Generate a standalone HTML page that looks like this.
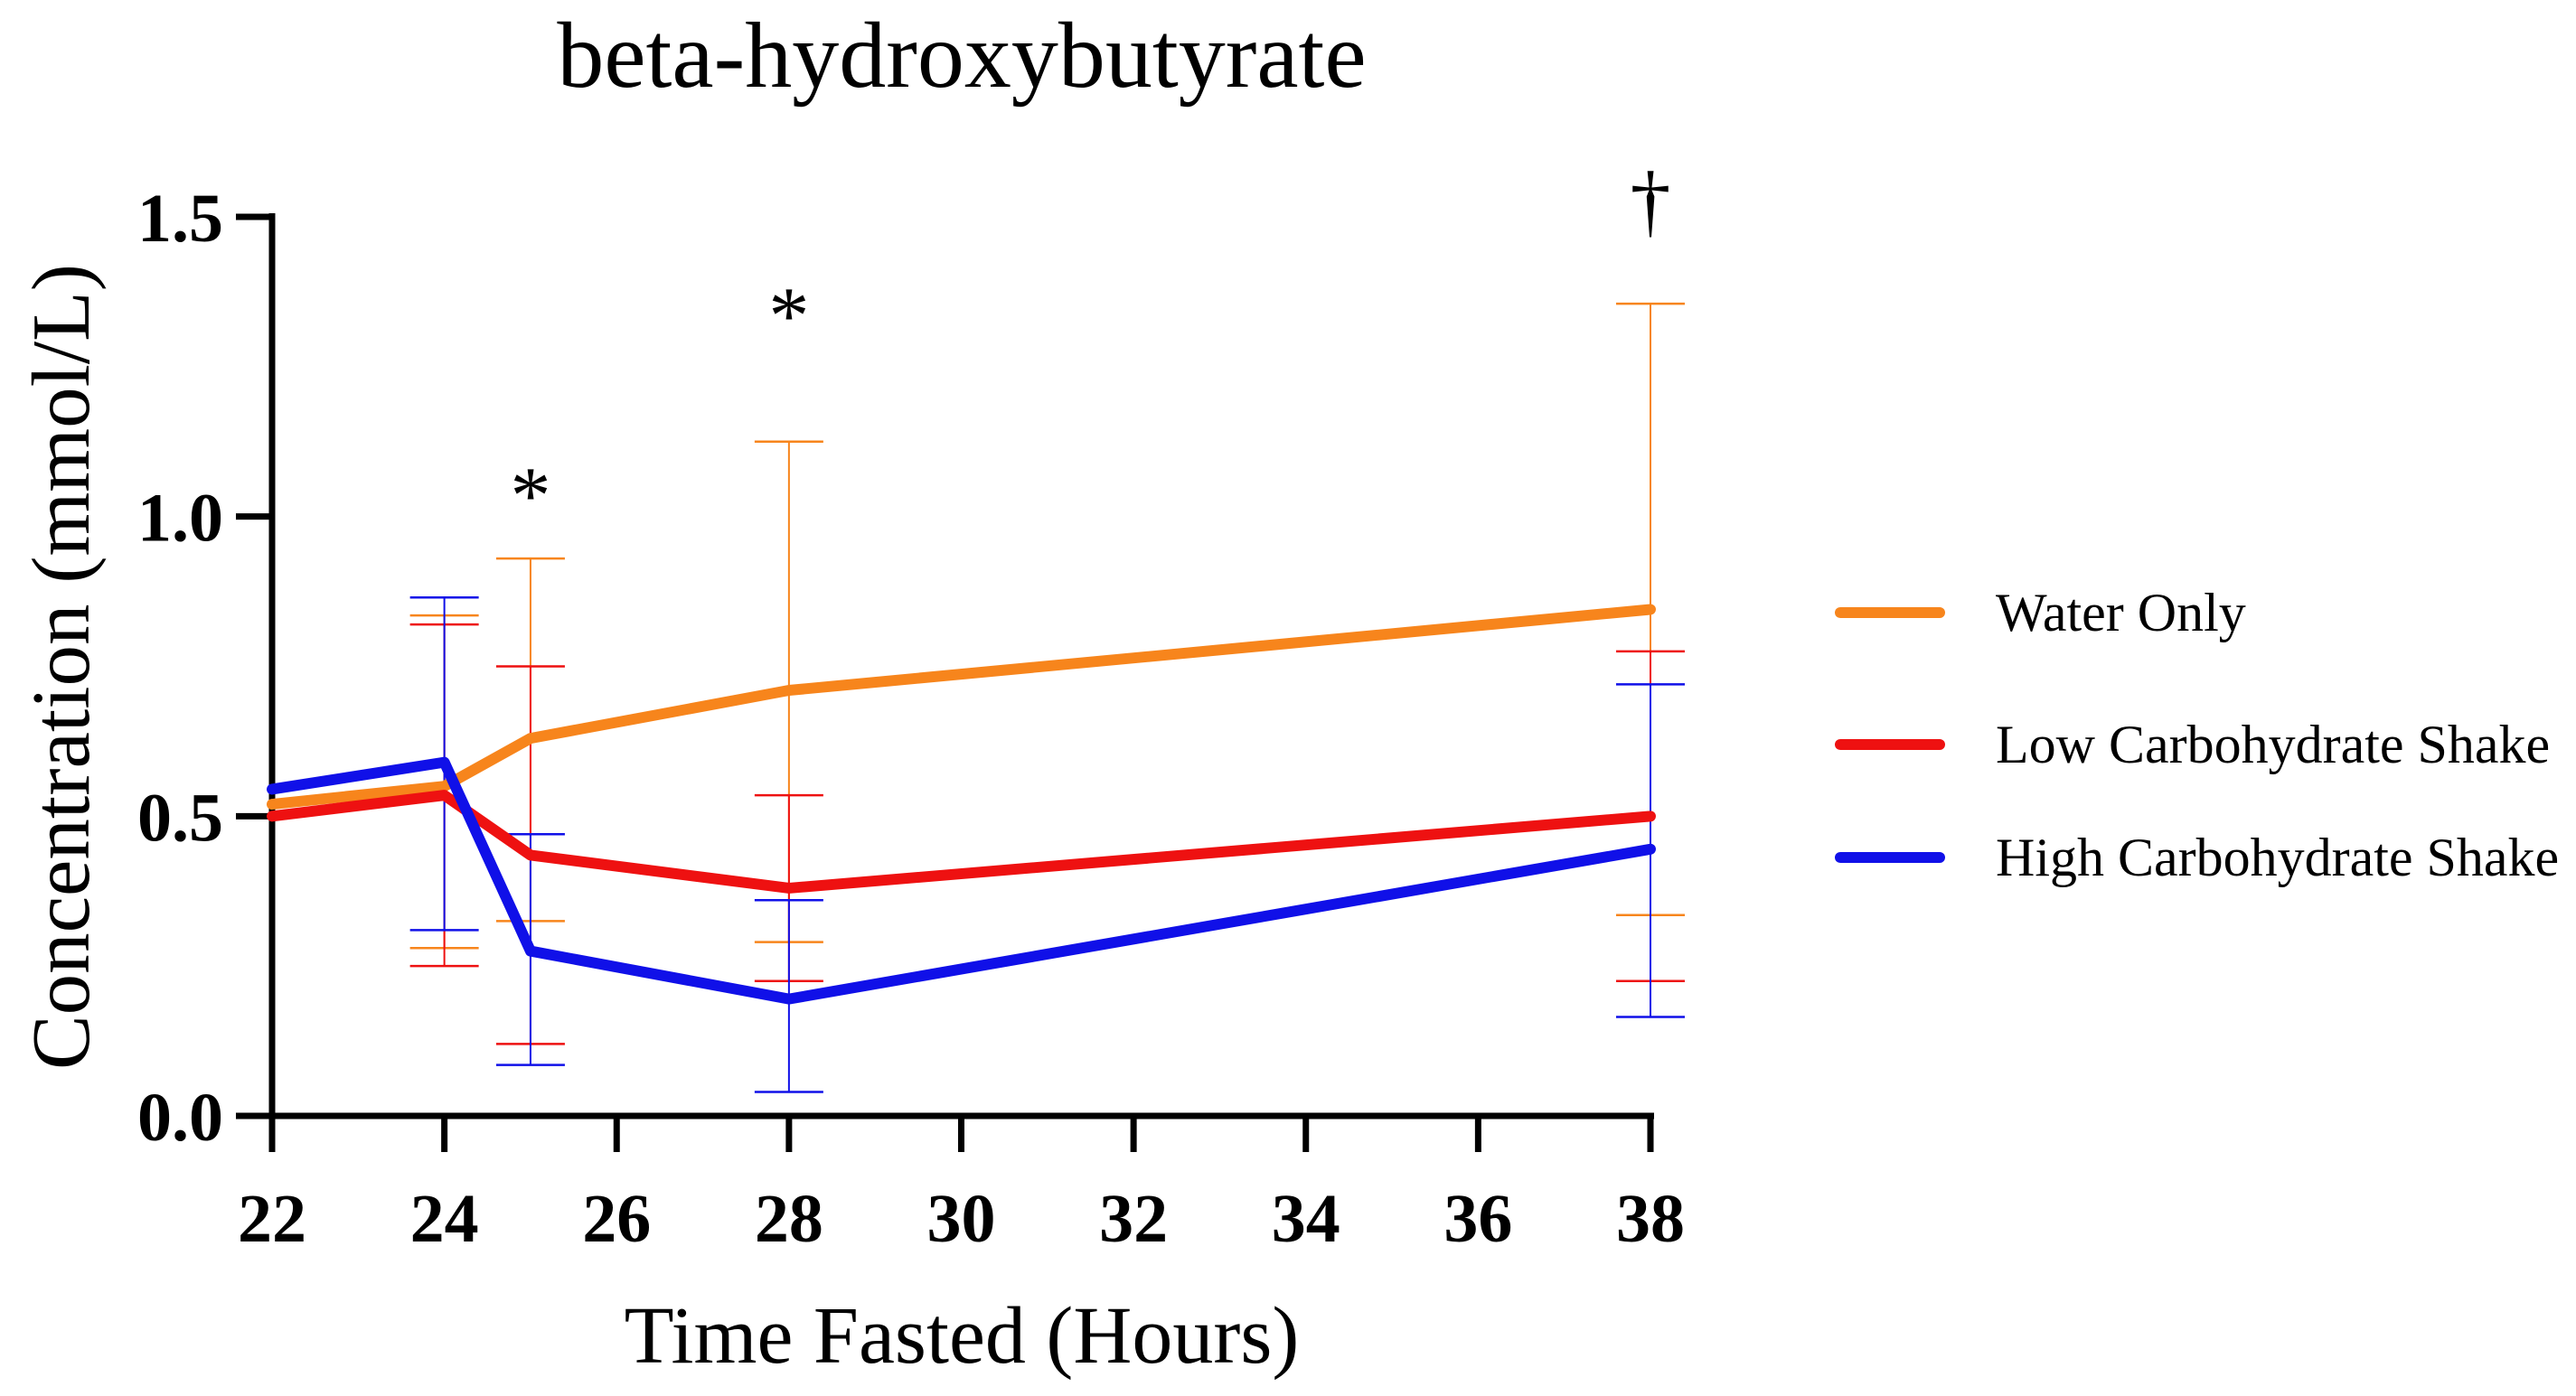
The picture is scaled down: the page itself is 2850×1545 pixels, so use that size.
<!DOCTYPE html>
<html><head><meta charset="utf-8"><style>
html,body{margin:0;padding:0;background:#fff;}
svg{display:block;font-family:"Liberation Serif",serif;}
</style></head><body>
<svg id="chart" width="2850" height="1545" viewBox="0 0 2850 1545" xmlns="http://www.w3.org/2000/svg">
<text x="1064" y="96" font-size="104" text-anchor="middle" fill="#000">beta-hydroxybutyrate</text>
<g id="grid"></g>
<text transform="translate(98,738) rotate(-90)" font-size="91" text-anchor="middle" fill="#000">Concentration (mmol/L)</text>
<text x="1064" y="1508" font-size="90" text-anchor="middle" fill="#000">Time Fasted (Hours)</text>
<g id="legend"></g>
</svg>
<script>
const times = [22, 24, 25, 28, 38];
const seriesNames = ["Water Only", "Low Carbohydrate Shake", "High Carbohydrate Shake"];
const seriesColors = ["#f7851c", "#ee1111", "#1010e8"];
const waterMean = [0.52, 0.55, 0.63, 0.71, 0.845];
const lowMean = [0.50, 0.535, 0.435, 0.38, 0.50];
const highMean = [0.545, 0.59, 0.275, 0.195, 0.445];
const waterLo = [null, 0.28, 0.325, 0.29, 0.335];
const waterHi = [null, 0.835, 0.93, 1.125, 1.355];
const lowLo = [null, 0.25, 0.12, 0.225, 0.225];
const lowHi = [null, 0.82, 0.75, 0.535, 0.775];
const highLo = [null, 0.31, 0.085, 0.04, 0.165];
const highHi = [null, 0.865, 0.47, 0.36, 0.72];
const xTicks = [22, 24, 26, 28, 30, 32, 34, 36, 38];
const yTicks = [0.0, 0.5, 1.0, 1.5];
const yTickLabels = ["0.0", "0.5", "1.0", "1.5"];
const markTimes = [25, 28, 38];
const markLabels = ["*", "*", "†"];
const markValues = [1.02, 1.32, 1.5];

const NS = "http://www.w3.org/2000/svg";
const svg = document.getElementById("chart");
const g = document.getElementById("grid");
const lg = document.getElementById("legend");
const X0 = 301, X1 = 1826, Y0 = 1235, Y1 = 240;
function xs(t){ return X0 + (t - 22) / 16 * (X1 - X0); }
function ys(v){ return Y0 - v / 1.5 * (Y0 - Y1); }
function mk(tag, attrs, parent){
  const e = document.createElementNS(NS, tag);
  for (const k in attrs) e.setAttribute(k, attrs[k]);
  (parent || g).appendChild(e);
  return e;
}
let e = mk("line", {x1: X0, y1: Y1 - 4, x2: X0, y2: Y0 + 4, stroke: "#000", "stroke-width": 7});


e = mk("line", {x1: X0 - 4, y1: Y0, x2: X1 + 4, y2: Y0, stroke: "#000", "stroke-width": 7});


yTicks.forEach((v, i) => {
  const t = mk("line", {x1: X0 - 40, y1: ys(v), x2: X0, y2: ys(v), stroke: "#000", "stroke-width": 7});
  
  
  const l = mk("text", {x: X0 - 54, y: ys(v) + 27, "font-size": 76, "font-weight": "bold", "text-anchor": "end"});
  l.textContent = yTickLabels[i];
  
  
});
xTicks.forEach(v => {
  const t = mk("line", {x1: xs(v), y1: Y0, x2: xs(v), y2: Y0 + 40, stroke: "#000", "stroke-width": 7});
  
  
  const l = mk("text", {x: xs(v), y: 1374, "font-size": 76, "font-weight": "bold", "text-anchor": "middle"});
  l.textContent = String(v);
  
  
});
const means = [waterMean, lowMean, highMean];
const los = [waterLo, lowLo, highLo];
const his = [waterHi, lowHi, highHi];
const keys = ["water", "low-carb", "high-carb"];
[0, 1, 2].forEach(s => {
  times.forEach((t, i) => {
    if (los[s][i] == null) return;
    const x = xs(t);
    const c = seriesColors[s];
    const v = mk("line", {x1: x, y1: ys(los[s][i]), x2: x, y2: ys(his[s][i]), stroke: c, "stroke-width": 2});
    
    
    [los[s][i], his[s][i]].forEach(val => {
      const cap = mk("line", {x1: x - 38, y1: ys(val), x2: x + 38, y2: ys(val), stroke: c, "stroke-width": 2.5});
      
      
    });
  });
});
[0, 1, 2].forEach(s => {
  const pts = times.map((t, i) => xs(t) + "," + ys(means[s][i])).join(" ");
  const p = mk("polyline", {points: pts, fill: "none", stroke: seriesColors[s], "stroke-width": 12, "stroke-linejoin": "round", "stroke-linecap": "round"});
  
  
});
markTimes.forEach((t, i) => {
  const m = mk("text", {x: xs(t), y: ys(markValues[i]) + (markLabels[i] === "*" ? 20 : 12), "font-size": 90, "text-anchor": "middle"});
  m.textContent = markLabels[i];
  
  
});
const legY = [678, 824, 949];
seriesNames.forEach((n, i) => {
  const ln = mk("line", {x1: 2036, y1: legY[i], x2: 2146, y2: legY[i], stroke: seriesColors[i], "stroke-width": 12, "stroke-linecap": "round"}, lg);
  
  
  const tx = mk("text", {x: 2208, y: legY[i] + 20, "font-size": 60}, lg);
  tx.textContent = n;
  
  
});
</script>
</body></html>
